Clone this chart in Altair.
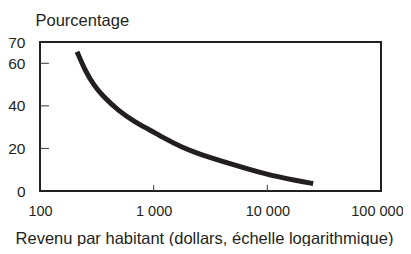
import altair as alt
import pandas as pd

# Data
income = [212, 252, 298, 352, 493, 691, 903, 1267, 1774, 2483, 4865, 9546, 18700, 25300]
share = [65.4, 56.0, 49.7, 44.9, 37.5, 32.3, 29.0, 24.5, 20.5, 17.4, 12.6, 7.9, 4.7, 3.5]

x_tick_values = [100, 1000, 10000, 100000]
x_tick_labels = ["100", "1 000", "10 000", "100 000"]
x_inner_ticks = [1000, 10000]
y_label_values = [0, 20, 40, 60, 70]
y_inner_ticks = [20, 40, 60]

df = pd.DataFrame({"income": income, "share": share})
xt = pd.DataFrame({"xv": x_inner_ticks})
yt = pd.DataFrame({"yv": y_inner_ticks})

label_expr = " : ".join(
    f"datum.value == {v} ? '{l}'" for v, l in zip(x_tick_values, x_tick_labels)
) + " : ''"

W, H = 341, 149
INK = "#231f20"
TICK = "#3a3a3a"
FONT = "Liberation Sans"

x_scale = alt.Scale(type="log", domain=[100, 100000], nice=False)
y_scale = alt.Scale(domain=[0, 70], nice=False, zero=False)

x_axis = alt.Axis(
    orient="bottom", values=x_tick_values, labelExpr=label_expr,
    ticks=False, tickSize=0, domain=False, grid=False, labelOverlap=False,
    labelPadding=13, labelFlush=False, labelFontSize=14.5, labelColor=INK,
    labelFont=FONT,
    labelOffset={"condition": {"test": "datum.value == 100000", "value": -4}, "value": 0},
    title="Revenu par habitant (dollars, échelle logarithmique)",
    titleFont=FONT, titleFontSize=16.5, titleFontWeight="normal",
    titleColor=INK, titleX=164, titleY=52, titleBaseline="alphabetic",
    titleAnchor="middle", titleAlign="center",
)
y_axis = alt.Axis(
    orient="left", values=y_label_values, ticks=False, tickSize=0,
    domain=False, grid=False, labelPadding=15, labelFontSize=15.5,
    labelColor=INK, labelFont=FONT, labelFlush=False, labelOverlap=False,
    title="Pourcentage", titleFont=FONT, titleFontSize=16.5,
    titleFontWeight="normal", titleColor=INK, titleAngle=0,
    titleX=-5, titleY=-17, titleAlign="left", titleBaseline="alphabetic",
)

main = alt.Chart(df).mark_line(
    color=INK, strokeWidth=5, interpolate="basis", strokeCap="butt"
).encode(
    x=alt.X("income:Q", scale=x_scale, axis=x_axis),
    y=alt.Y("share:Q", scale=y_scale, axis=y_axis),
)

x_ticks = alt.Chart(xt).mark_rule(color=TICK, strokeWidth=1).encode(
    x=alt.X("xv:Q", scale=x_scale, axis=None),
    y=alt.value(H),
    y2=alt.value(H - 6),
)

y_ticks = alt.Chart(yt).mark_rule(color=TICK, strokeWidth=1).encode(
    y=alt.Y("yv:Q", scale=y_scale, axis=None),
    x=alt.value(0),
    x2=alt.value(9),
)

chart = alt.layer(main, x_ticks, y_ticks).resolve_axis(
    x="independent", y="independent"
).properties(
    width=W, height=H,
    autosize=alt.AutoSizeParams(type="none"),
    padding={"left": 32, "top": 34, "right": 22, "bottom": 55},
    background="white",
).configure_view(
    stroke=INK, strokeWidth=2
).configure_axis(
    labelOverlap=False
)

chart.save("out.html", embed_options={"renderer": "svg", "actions": False})
